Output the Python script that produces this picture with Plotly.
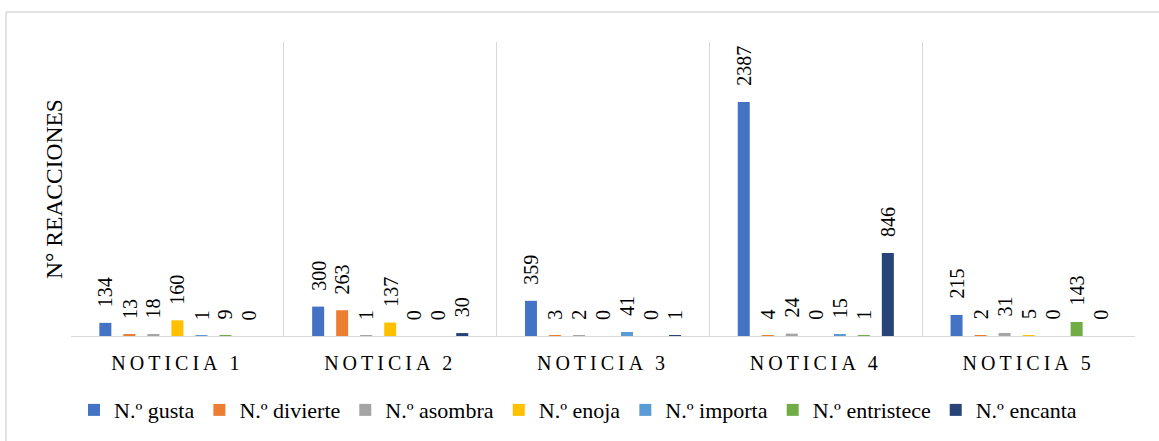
import plotly.graph_objects as go

categories = ["NOTICIA 1", "NOTICIA 2", "NOTICIA 3", "NOTICIA 4", "NOTICIA 5"]
series_names = ["N.º gusta", "N.º divierte", "N.º asombra", "N.º enoja",
                "N.º importa", "N.º entristece", "N.º encanta"]
gusta = [134, 300, 359, 2387, 215]
divierte = [13, 263, 3, 4, 2]
asombra = [18, 1, 2, 24, 31]
enoja = [160, 137, 0, 0, 5]
importa = [1, 0, 41, 15, 0]
entristece = [9, 0, 0, 1, 143]
encanta = [0, 30, 1, 846, 0]
colors = ["#4472C4", "#ED7D31", "#A5A5A5", "#FFC000", "#5B9BD5", "#70AD47", "#264478"]

series_values = [gusta, divierte, asombra, enoja, importa, entristece, encanta]
FONT = "Liberation Serif"
BARGAP = 0.21
n_series = len(series_names)

fig = go.Figure()
annotations = []
for si, (name, vals, col) in enumerate(zip(series_names, series_values, colors)):
    fig.add_trace(go.Bar(
        x=categories, y=vals, name=name, marker=dict(color=col, line=dict(width=0)),
        hoverinfo="x+y+name",
    ))
    offset = (si - (n_series - 1) / 2) * (1 - BARGAP) / n_series
    for ci, v in enumerate(vals):
        annotations.append(dict(
            x=ci + offset, y=v, xref="x", yref="y", text=str(v), showarrow=False,
            textangle=-90, xanchor="center", yanchor="bottom", yshift=14,
            font=dict(family=FONT, size=20, color="#000000"),
        ))

ticktext = ['<span style="letter-spacing:4px">%s</span>' % c for c in categories]

fig.update_layout(
    width=1159, height=441,
    margin=dict(l=71, r=24, t=42, b=105, autoexpand=False),
    paper_bgcolor="white", plot_bgcolor="white",
    barmode="group", bargap=BARGAP, bargroupgap=0.5,
    font=dict(family=FONT, color="#000000"),
    showlegend=True,
    legend=dict(orientation="h", x=0.4765, xanchor="center", y=-0.252, yanchor="middle",
                font=dict(family=FONT, size=22, color="#000000"),
                itemwidth=30, traceorder="normal"),
    xaxis=dict(type="category", tickson="boundaries", showgrid=True, gridcolor="#D9D9D9",
               gridwidth=1, showline=True, linecolor="#D9D9D9", linewidth=1,
               ticks="", tickmode="array", tickvals=categories, ticktext=ticktext,
               tickfont=dict(family=FONT, size=20, color="#000000"),
               ticklabelstandoff=9, range=[-0.5, 4.5], zeroline=False),
    yaxis=dict(range=[0, 3000], showgrid=False, showticklabels=False, ticks="",
               zeroline=False, showline=False,
               title=dict(text="N° REACCIONES", font=dict(family=FONT, size=23.5, color="#000000"),
                          standoff=0)),
    annotations=annotations,
    shapes=[
        dict(type="line", xref="paper", yref="paper", x0=-0.0611, x1=1.03, y0=1.102, y1=1.102,
             line=dict(color="#D9D9D9", width=1.5)),
        dict(type="line", xref="paper", yref="paper", x0=-0.0611, x1=-0.0611, y0=1.102, y1=-0.36,
             line=dict(color="#D9D9D9", width=1.5)),
    ],
)

fig.write_html("out.html", config={"displayModeBar": False},
               post_script="document.body.style.margin='0';")
